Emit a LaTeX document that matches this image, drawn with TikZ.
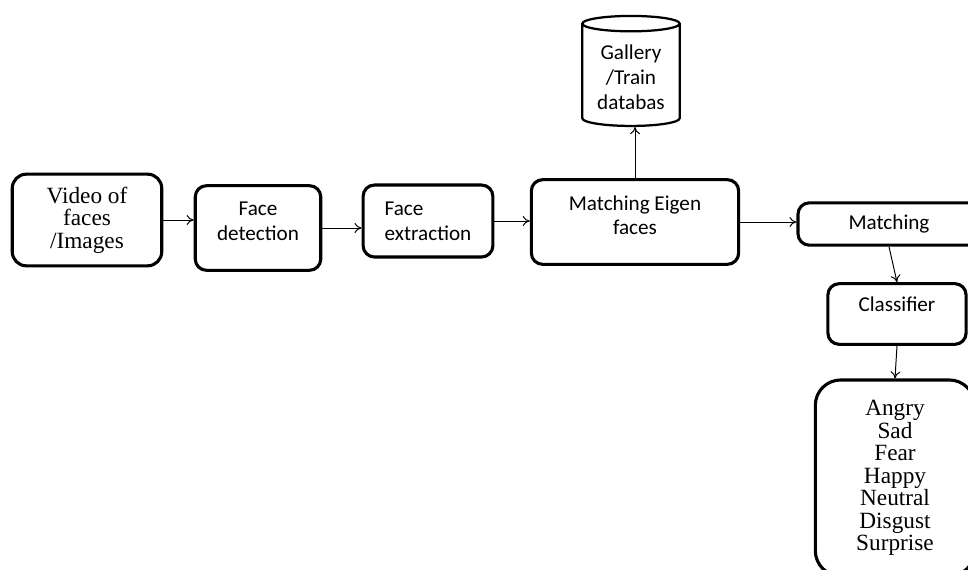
\documentclass[tikz,border=0pt]{standalone}
\usepackage{fontspec}
\setmainfont{Liberation Serif}
\newfontfamily\calfont{Carlito}
\usetikzlibrary{shapes.geometric,arrows.meta}

\tikzset{
  blk/.style={draw, line width=2.2pt, rounded corners=8pt, align=center, inner sep=2pt},
  sanstxt/.style={font=\calfont\fontsize{15}{17.7}\selectfont},
  seriftxt/.style={font=\fontsize{16.5}{16}\selectfont},
}

\begin{document}
\begin{tikzpicture}[x=0.709pt,y=-0.709pt]
  \useasboundingbox (0,0) rectangle (968,570);
  \clip (0,0) rectangle (968,570);
  \node[blk,seriftxt,minimum width=106pt,minimum height=65pt,rounded corners=10pt] (vid) at (87,220) {Video of\\faces\\/Images};
  \node[blk,sanstxt,minimum width=89pt,minimum height=60pt] (fd) at (258,228) {Face\\detection\\[-8pt]};
  \node[blk,sanstxt,minimum width=92pt,minimum height=51pt,align=left] (fe) at (428,221) {Face\\extraction};
  \node[blk,sanstxt,minimum width=147pt,minimum height=60pt] (me) at (635,222) {Matching Eigen\\faces\\[-8pt]};
  \node[draw,cylinder,shape border rotate=90,aspect=0.2,line width=1.6pt,sanstxt,align=center,
        minimum width=69pt,minimum height=78pt] (db) at (631,77) {Gallery\\/Train\\databas};
  \node[blk,sanstxt,minimum width=129pt,minimum height=30pt] (match) at (889,224) {Matching};
  \node[blk,sanstxt,minimum width=98pt,minimum height=43pt] (cls) at (897,314) {Classifier\\[-4pt]};
  \node[blk,seriftxt,minimum width=113pt,minimum height=139pt,rounded corners=18pt] (emo) at (895,478)
    {Angry\\Sad\\Fear\\Happy\\Neutral\\Disgust\\Surprise};

  \path[-{To[length=5pt,width=7pt]},line width=0.7pt]
    (vid.east) edge (fd.west|-vid.east)
    (fd.east) edge (fe.west|-fd.east)
    (fe.east) edge (me.west|-fe.east)
    (me.north) edge (me.north|-db.south)
    (me.east) edge (match.west|-me.east)
    (match.south) edge (cls.north)
    (cls.south) edge (emo.north);
\end{tikzpicture}
\end{document}
